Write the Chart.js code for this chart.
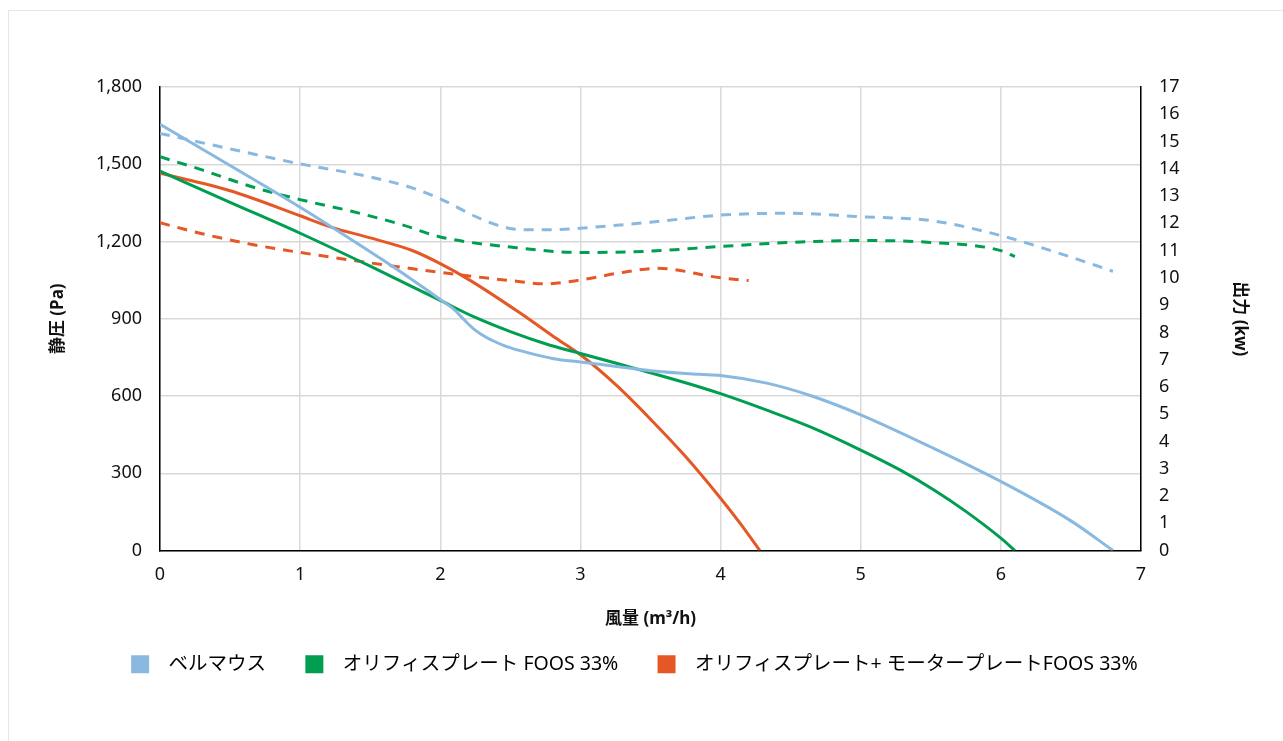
<!DOCTYPE html>
<html>
<head>
<meta charset="utf-8">
<script src="https://cdn.jsdelivr.net/npm/chart.js@4.4.1/dist/chart.umd.min.js"></script>
<style>
  html, body { margin: 0; padding: 0; background: #fff; overflow: hidden; }
  #card {
    position: absolute; left: 8px; top: 10px; width: 1275px; height: 740px;
    border-left: 1px solid #e6e6e6; border-top: 1px solid #e6e6e6;
    box-sizing: border-box;
  }
</style>
</head>
<body>
<div id="card"><canvas id="fanChart"></canvas></div>
<script>
// series names
const seriesNames = ['ベルマウス', 'オリフィスプレート FOOS 33%', 'オリフィスプレート+ モータープレートFOOS 33%'];
const seriesColors = ['rgb(137,185,225)', 'rgb(0,158,80)', 'rgb(229,88,38)'];

// static pressure (Pa) vs flow
const bellFlow = [0, 0.5, 1, 1.5, 1.75, 2, 2.1, 2.17, 2.24, 2.33, 2.45, 2.57, 2.81, 3, 3.3, 3.5, 3.85, 4, 4.33, 4.64, 5, 5.5, 6, 6.5, 6.8];
const bellPressure = [1655, 1495, 1333, 1160, 1070, 975, 935, 896, 860, 827, 797, 776, 745, 732, 712, 698, 684, 680, 650, 602, 527, 402, 268, 115, 0];

const orificeFlow = [0, 0.5, 1, 1.5, 2, 2.25, 2.5, 2.75, 3, 3.25, 3.5, 3.85, 4, 4.33, 4.64, 5, 5.28, 5.52, 5.75, 6, 6.1];
const orificePressure = [1473, 1352, 1232, 1104, 971, 905, 850, 803, 765, 728, 690, 635, 609, 545, 480, 390, 313, 236, 152, 48, 0];

const motorFlow = [0, 0.5, 1, 1.22, 1.5, 1.8, 2, 2.21, 2.57, 2.81, 3, 3.25, 3.5, 3.75, 4, 4.14, 4.28];
const motorPressure = [1465, 1397, 1300, 1256, 1214, 1165, 1114, 1050, 922, 830, 760, 645, 510, 365, 203, 105, 0];

// power (kW) vs flow
const bellPowerFlow = [0, 0.5, 1, 1.5, 1.8, 2, 2.29, 2.48, 2.64, 2.86, 3, 3.5, 4, 4.5, 5, 5.5, 6, 6.5, 6.8];
const bellPower = [15.3, 14.73, 14.18, 13.7, 13.3, 12.9, 12.16, 11.83, 11.76, 11.77, 11.82, 12.04, 12.3, 12.37, 12.24, 12.1, 11.55, 10.76, 10.24];

const orificePowerFlow = [0, 0.3, 0.65, 1, 1.36, 1.72, 2, 2.5, 3, 3.5, 4, 4.5, 5, 5.5, 6, 6.1];
const orificePower = [14.44, 13.96, 13.35, 12.87, 12.45, 11.96, 11.5, 11.13, 10.93, 10.98, 11.15, 11.3, 11.37, 11.3, 11.0, 10.78];

const motorPowerFlow = [0, 0.3, 0.65, 1, 1.5, 2, 2.5, 2.75, 3, 3.3, 3.55, 4, 4.2];
const motorPower = [12.02, 11.62, 11.23, 10.93, 10.55, 10.2, 9.9, 9.78, 9.92, 10.2, 10.35, 10.0, 9.9];

const FONT = '"Noto Sans", "Noto Sans CJK JP", sans-serif';
const EN = '\u2002';

function pts(xs, ys) {
    return xs.map((x, i) => ({ x: x, y: ys[i] }));
}

function solid(i, xs, ys) {
    return {
        label: seriesNames[i],
        data: pts(xs, ys),
        borderColor: seriesColors[i],
        backgroundColor: seriesColors[i],
        borderWidth: 3,
        pointRadius: 0,
        cubicInterpolationMode: 'monotone',
        yAxisID: 'y'
    };
}

function dashed(i, xs, ys) {
    return {
        label: seriesNames[i] + ' 出力',
        data: pts(xs, ys),
        borderColor: seriesColors[i],
        borderWidth: 3,
        borderDash: [10, 8],
        pointRadius: 0,
        cubicInterpolationMode: 'monotone',
        yAxisID: 'y2'
    };
}

const ctx = document.getElementById('fanChart').getContext('2d');

new Chart(ctx, {
    type: 'line',
    data: {
        datasets: [
            solid(0, bellFlow, bellPressure),
            solid(1, orificeFlow, orificePressure),
            solid(2, motorFlow, motorPressure),
            dashed(0, bellPowerFlow, bellPower),
            dashed(1, orificePowerFlow, orificePower),
            dashed(2, motorPowerFlow, motorPower)
        ]
    },
    options: {
        responsive: true,
        maintainAspectRatio: false,
        animation: false,
        layout: { padding: { left: 35, right: 29, top: 76, bottom: 66 } },
        plugins: {
            tooltip: { enabled: false },
            legend: {
                position: 'bottom',
                labels: {
                    font: { family: FONT, size: 19.5 },
                    color: '#111',
                    boxWidth: 18,
                    boxHeight: 18,
                    padding: 10,
                    // only the pressure curves get a legend entry
                    generateLabels: chart => seriesNames.map((name, i) => ({
                        text: EN + name + EN + EN + EN,
                        fillStyle: seriesColors[i],
                        strokeStyle: seriesColors[i],
                        lineWidth: 0,
                        datasetIndex: i
                    }))
                }
            }
        },
        scales: {
            x: {
                type: 'linear',
                min: 0,
                max: 7,
                ticks: { stepSize: 1, color: '#111', font: { family: FONT, size: 18 }, padding: 14 },
                grid: { color: '#d9d9d9', lineWidth: 1.5, drawTicks: false },
                border: { color: '#000', width: 1.5 },
                title: {
                    display: true,
                    text: '風量 (m³/h)',
                    color: '#111',
                    font: { family: FONT, size: 17, weight: 'bold' },
                    padding: { top: 9, bottom: 15 }
                }
            },
            y: {
                position: 'left',
                min: 0,
                max: 1800,
                ticks: { stepSize: 300, color: '#111', font: { family: FONT, size: 18 }, padding: 18 },
                grid: { color: '#d9d9d9', lineWidth: 1.5, drawTicks: false },
                border: { color: '#000', width: 1.5 },
                title: {
                    display: true,
                    text: '静圧 (Pa)',
                    color: '#111',
                    font: { family: FONT, size: 17, weight: 'bold' },
                    padding: 4
                },
                afterFit: s => { s.width = 116; }
            },
            y2: {
                position: 'right',
                min: 0,
                max: 17,
                ticks: { stepSize: 1, color: '#111', font: { family: FONT, size: 18 }, padding: 18 },
                grid: { drawOnChartArea: false, drawTicks: false },
                border: { color: '#000', width: 1.5 },
                title: {
                    display: true,
                    text: '出力 (kw)',
                    color: '#111',
                    font: { family: FONT, size: 17, weight: 'bold' },
                    padding: 4
                },
                afterFit: s => { s.width = 113; }
            }
        }
    }
});
</script>
</body>
</html>
